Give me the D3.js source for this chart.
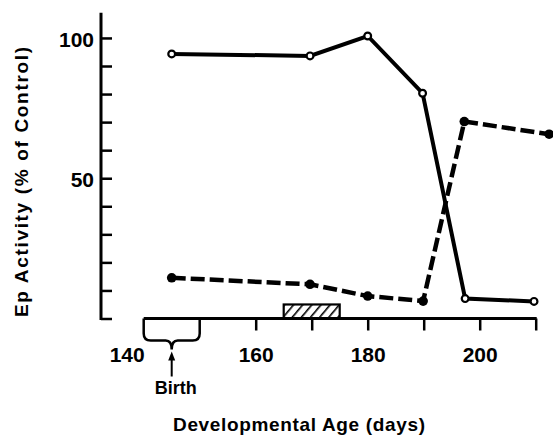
<!DOCTYPE html>
<meta charset="utf-8">
<html lang="en">
  <head>
    <style>
      body { margin: 0; background-color: #fff; }
      text { font-family: "Liberation Sans", Arial, sans-serif; font-weight: bold; fill: #000; }
      .axis path, .axis line { stroke: #000; }
      .solid { fill: none; stroke: #000; stroke-width: 4px; }
      .dashed { fill: none; stroke: #000; stroke-width: 4.5px; stroke-dasharray: 14,5; }
    </style>
  </head>
  <body>
    <script src="https://d3js.org/d3.v7.min.js"></script>
    <svg></svg>
    <script>

      // values
      var openDays   = [145, 169.7, 180, 189.8, 197.4, 209.7],
          openValues = [94.3, 93.6, 100.7, 80.3, 7.1, 6.1];

      var filledDays   = [145, 169.7, 180, 189.9, 197.25, 212.4],
          filledValues = [14.5, 12.2, 8.0, 6.2, 70.2, 65.7];

      var xTicks = [140, 150, 160, 170, 180, 190, 200, 210],
          xLabels = [140, 160, 180, 200],
          yTicks = [0, 10, 20, 30, 40, 50, 60, 70, 80, 90, 100],
          yLabels = [50, 100];

      var hatchDays = [165, 175], hatchHeight = 5;
      var birthRange = [140, 150], birthDay = 145;

      var width = 553, height = 435;

      var svg = d3.select("svg")
        .attr("width", width)
        .attr("height", height);

      var x = d3.scaleLinear().domain([160, 210]).range([255.7, 535.7]);
      var y = d3.scaleLinear().domain([0, 109]).range([318.5, 12.7]);

      var defs = svg.append("defs");
      var pat = defs.append("pattern")
        .attr("id", "hatch")
        .attr("patternUnits", "userSpaceOnUse")
        .attr("width", 7)
        .attr("height", 7)
        .attr("patternTransform", "rotate(40)");
      pat.append("line")
        .attr("x1", 0).attr("y1", 0).attr("x2", 0).attr("y2", 7)
        .attr("stroke", "#000").attr("stroke-width", 3.2);

      // y axis
      var y0 = y(0);
      svg.append("line")
        .attr("x1", 101).attr("x2", 101)
        .attr("y1", y.range()[1]).attr("y2", y0 + 1.5)
        .attr("stroke", "#000").attr("stroke-width", 3);

      var yAxis = svg.append("g")
        .attr("class", "axis")
        .attr("transform", "translate(101,0)")
        .call(d3.axisLeft(y)
          .tickValues(yTicks)
          .tickSize(-11)
          .tickPadding(7)
          .tickFormat(function(d) { return yLabels.indexOf(d) >= 0 ? d : ""; }));
      yAxis.select(".domain").remove();
      yAxis.selectAll("line").attr("stroke-width", 2.5);
      yAxis.selectAll("text")
        .attr("font-size", 21)
        .attr("dy", "0.4em")
        .style("font-family", "'Liberation Sans', Arial, sans-serif");

      // x axis
      svg.append("line")
        .attr("x1", x(140)).attr("x2", x(210) + 1)
        .attr("y1", y0).attr("y2", y0)
        .attr("stroke", "#000").attr("stroke-width", 3);

      var xAxis = svg.append("g")
        .attr("class", "axis")
        .attr("transform", "translate(0," + y0 + ")")
        .call(d3.axisBottom(x)
          .tickValues(xTicks)
          .tickSize(12)
          .tickPadding(17)
          .tickFormat(function(d) { return xLabels.indexOf(d) >= 0 ? d : ""; }));
      xAxis.select(".domain").remove();
      xAxis.selectAll("line")
        .attr("stroke-width", 2.5)
        .filter(function(d) { return d < 160; }).remove();
      xAxis.selectAll("text")
        .attr("font-size", 21)
        .style("font-family", "'Liberation Sans', Arial, sans-serif")
        .filter(function(d) { return d === 140; })
        .attr("dx", -17);

      // birth bracket
      var bl = x(birthRange[0]), br = x(birthRange[1]), bm = x(birthDay);
      var b = d3.path();
      b.moveTo(bl, y0);
      b.lineTo(bl, y0 + 15);
      b.quadraticCurveTo(bl, y0 + 22, bl + 7, y0 + 22);
      b.lineTo(bm - 6, y0 + 22);
      b.quadraticCurveTo(bm, y0 + 22, bm, y0 + 31);
      b.quadraticCurveTo(bm, y0 + 22, bm + 6, y0 + 22);
      b.lineTo(br - 7, y0 + 22);
      b.quadraticCurveTo(br, y0 + 22, br, y0 + 15);
      b.lineTo(br, y0);
      svg.append("path")
        .attr("d", b.toString())
        .attr("fill", "none")
        .attr("stroke", "#000")
        .attr("stroke-width", 2.5);

      svg.append("line")
        .attr("x1", bm).attr("x2", bm)
        .attr("y1", y0 + 40).attr("y2", y0 + 58)
        .attr("stroke", "#000").attr("stroke-width", 2);
      svg.append("path")
        .attr("d", "M" + bm + "," + (y0 + 33) + "L" + (bm - 3.5) + "," + (y0 + 42) + "L" + (bm + 3.5) + "," + (y0 + 42) + "Z")
        .attr("fill", "#000");

      svg.append("text")
        .attr("x", bm + 4)
        .attr("y", 394)
        .attr("text-anchor", "middle")
        .attr("font-size", 18)
        .text("Birth");

      // hatched bar
      svg.append("rect")
        .attr("x", x(hatchDays[0]))
        .attr("y", y(hatchHeight))
        .attr("width", x(hatchDays[1]) - x(hatchDays[0]))
        .attr("height", y0 - y(hatchHeight))
        .attr("fill", "url(#hatch)")
        .attr("stroke", "#000")
        .attr("stroke-width", 2.2);

      // series
      var openData = openDays.map(function(d, i) { return [d, openValues[i]]; });
      var filledData = filledDays.map(function(d, i) { return [d, filledValues[i]]; });

      var line = d3.line()
        .x(function(d) { return x(d[0]); })
        .y(function(d) { return y(d[1]); });

      svg.append("path").datum(filledData).attr("class", "dashed").attr("d", line);
      svg.append("path").datum(openData).attr("class", "solid").attr("d", line);

      svg.append("g").selectAll("circle")
        .data(filledData)
        .enter()
        .append("circle")
        .attr("cx", function(d) { return x(d[0]); })
        .attr("cy", function(d) { return y(d[1]); })
        .attr("r", 4.8)
        .attr("fill", "#000");

      svg.append("g").selectAll("circle")
        .data(openData)
        .enter()
        .append("circle")
        .attr("cx", function(d) { return x(d[0]); })
        .attr("cy", function(d) { return y(d[1]); })
        .attr("r", 3.4)
        .attr("fill", "#fff")
        .attr("stroke", "#000")
        .attr("stroke-width", 2.2);

      // axis titles
      svg.append("text")
        .attr("x", 299)
        .attr("y", 431)
        .attr("text-anchor", "middle")
        .attr("font-size", 19)
        .attr("textLength", 252)
        .attr("lengthAdjust", "spacing")
        .text("Developmental Age (days)");

      svg.append("text")
        .attr("transform", "translate(28,182) rotate(-90)")
        .attr("text-anchor", "middle")
        .attr("font-size", 19)
        .attr("textLength", 270)
        .attr("lengthAdjust", "spacing")
        .text("Ep Activity (% of Control)");

    </script>
  </body>
</html>
